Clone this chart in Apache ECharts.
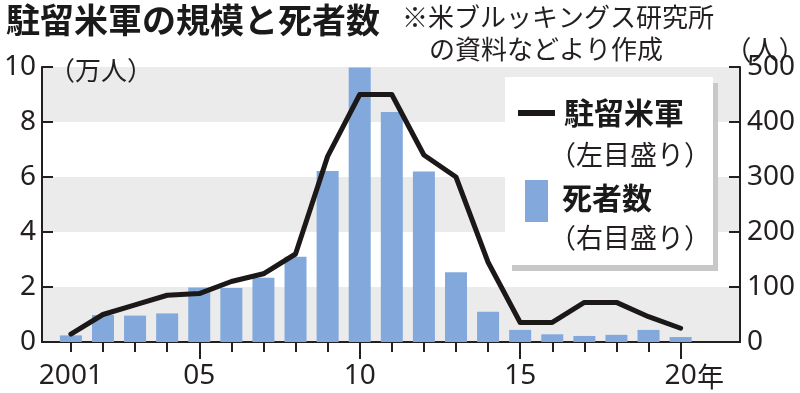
<!DOCTYPE html>
<html>
<head>
<meta charset="utf-8">
<script src="https://cdn.jsdelivr.net/npm/echarts@6/dist/echarts.min.js"></script>
<style>
html,body{margin:0;padding:0;background:#fff;}
#c{width:800px;height:393px;}
</style>
</head>
<body>
<div id="c"></div>
<script>
// ---- data ----
const years = [2001,2002,2003,2004,2005,2006,2007,2008,2009,2010,2011,2012,2013,2014,2015,2016,2017,2018,2019,2020];
const troops = [0.29,1.0,1.35,1.7,1.76,2.2,2.48,3.2,6.75,9.0,9.0,6.8,6.0,2.9,0.71,0.71,1.44,1.44,0.92,0.5]; // 万人 (left axis)
const deaths = [12,49,48,52,99,98,117,155,311,499,418,310,127,55,22,14,11,13,22,9]; // 人 (right axis)
const leftTicks = [0,2,4,6,8,10];
const rightTicks = [0,100,200,300,400,500];
const xMajorTicks = [2005,2010,2015,2020];
const xLabelYears = [2001,2005,2010,2015,2020];

const FONT = '"Noto Sans CJK JP","Noto Sans",sans-serif';
const NUMFONT = '"Noto Sans","Noto Sans CJK JP",sans-serif';
const INK = '#231f20';

const chart = echarts.init(document.getElementById('c'), null, {renderer:'canvas'});

const xCommon = {
  type:'value', min:2000.1, max:2021.85, position:'bottom',
  splitLine:{show:false},
  axisLine:{show:true, lineStyle:{color:INK, width:2}}
};

chart.setOption({
  backgroundColor:'#ffffff',
  animation:false,
  grid:{left:42, right:60, top:67, bottom:51, containLabel:false},
  xAxis:[
    Object.assign({}, xCommon, {
      axisTick:{show:true, length:10, lineStyle:{color:INK, width:2}, customValues: years},
      axisLabel:{show:false}
    }),
    Object.assign({}, xCommon, {
      axisTick:{show:true, length:17, lineStyle:{color:INK, width:2}, customValues: xMajorTicks},
      axisLabel:{show:true, customValues: xLabelYears, margin:20,
        color:INK, fontSize:28, fontFamily:NUMFONT,
        formatter:function(v){ v=Math.round(v); return v===2001 ? '2001' : String(v%100).padStart(2,'0'); }
      }
    })
  ],
  yAxis:[
    {type:'value', min:leftTicks[0], max:leftTicks[leftTicks.length-1], interval:2, position:'left',
     axisLine:{show:true, lineStyle:{color:INK, width:2}},
     axisTick:{show:true, inside:true, length:11, lineStyle:{color:INK, width:2}},
     axisLabel:{color:INK, fontSize:28, fontFamily:NUMFONT, margin:6},
     splitLine:{show:false},
     splitArea:{show:true, areaStyle:{color:['#ebebeb','#ffffff']}}
    },
    {type:'value', min:rightTicks[0], max:rightTicks[rightTicks.length-1], interval:100, position:'right',
     axisLine:{show:true, lineStyle:{color:INK, width:2}},
     axisTick:{show:true, inside:true, length:11, lineStyle:{color:INK, width:2}},
     axisLabel:{color:INK, fontSize:28, fontFamily:NUMFONT, margin:7},
     splitLine:{show:false}, splitArea:{show:false}
    }
  ],
  series:[
    {type:'bar', name:'死者数', xAxisIndex:0, yAxisIndex:1, barWidth:22,
     itemStyle:{color:'#82a8dc'}, z:2,
     data: years.map((y,i)=>[y, deaths[i]])},
    {type:'line', name:'駐留米軍', xAxisIndex:0, yAxisIndex:0, showSymbol:false, symbol:'none',
     lineStyle:{color:'#1c1818', width:5, join:'round', cap:'round'}, z:3,
     data: years.map((y,i)=>[y, troops[i]])}
  ],
  graphic:[
    {type:'text', left:6, top:3, style:{text:'駐留米軍の規模と死者数', fontSize:34, fontWeight:'bold', fontFamily:FONT, fill:'#1a1a1a'}},
    {type:'text', x:402, y:17, style:{text:'※米ブルッキングス研究所', fontSize:26, fontFamily:FONT, fill:INK, textVerticalAlign:'middle'}},
    {type:'text', x:429, y:49, style:{text:'の資料などより作成', fontSize:26, fontFamily:FONT, fill:INK, textVerticalAlign:'middle'}},
    {type:'text', x:765, y:50, style:{text:'（人）', fontSize:27, fontFamily:FONT, fill:INK, textAlign:'center', textVerticalAlign:'middle'}},
    {type:'text', x:101, y:70, z:10, style:{text:'（万人）', fontSize:26, fontFamily:FONT, fill:INK, textAlign:'center', textVerticalAlign:'middle'}},
    {type:'text', x:697, y:377, style:{text:'年', fontSize:27, fontFamily:FONT, fill:INK, textVerticalAlign:'middle'}},
    // legend box
    {type:'rect', z:20, shape:{x:512, y:83, width:206, height:188}, style:{fill:'#c8c8c8'}},
    {type:'rect', z:21, shape:{x:505, y:77, width:208, height:188}, style:{fill:'#ffffff'}},
    {type:'rect', z:22, shape:{x:518, y:110, width:37, height:6}, style:{fill:'#1c1818'}},
    {type:'text', z:22, x:624, y:113, style:{text:'駐留米軍', fontSize:30, fontWeight:'bold', fontFamily:FONT, fill:'#1a1a1a', textAlign:'center', textVerticalAlign:'middle'}},
    {type:'text', z:22, x:630, y:155, style:{text:'（左目盛り）', fontSize:27, fontFamily:FONT, fill:INK, textAlign:'center', textVerticalAlign:'middle'}},
    {type:'rect', z:22, shape:{x:525, y:180, width:23, height:42}, style:{fill:'#82a8dc'}},
    {type:'text', z:22, x:562, y:198, style:{text:'死者数', fontSize:30, fontWeight:'bold', fontFamily:FONT, fill:'#1a1a1a', textVerticalAlign:'middle'}},
    {type:'text', z:22, x:630, y:238, style:{text:'（右目盛り）', fontSize:27, fontFamily:FONT, fill:INK, textAlign:'center', textVerticalAlign:'middle'}}
  ]
});
</script>
</body>
</html>
